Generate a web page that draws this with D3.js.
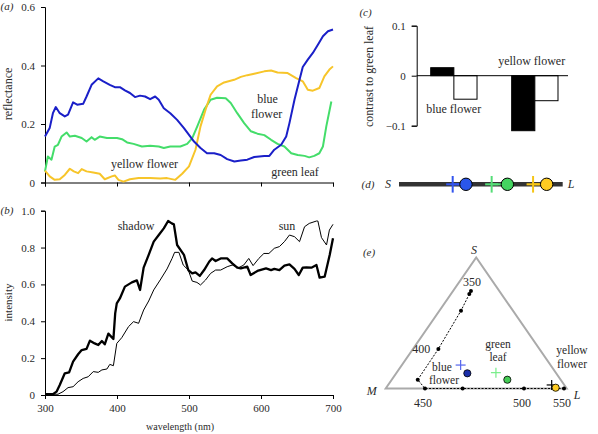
<!DOCTYPE html>
<html><head><meta charset="utf-8">
<script src="https://cdn.jsdelivr.net/npm/d3@7"></script>
<style>
html,body{margin:0;padding:0;background:#fff;}
text{font-family:"Liberation Serif","Times New Roman",serif;fill:#2a2a2a;}
</style></head>
<body>
<svg id="c" width="598" height="434"></svg>
<script>
// ---------- DATA ----------
const wlTicks = [300,400,500,600,700];
const reflTicks = [0,0.2,0.4,0.6];
const intensityTicks = [0,0.2,0.4,0.6,0.8,1.0];
const contrastTicks = [-0.1,0,0.1];

// panel (a) reflectance [wavelength nm, reflectance]
const blueFlower = [[300,0.157],[306.5,0.186],[311,0.237],[315,0.258],[320.5,0.237],[327.5,0.226],[332,0.232],[339,0.274],[344.7,0.266],[353,0.269],[357.7,0.294],[364.7,0.334],[374,0.356],[381,0.346],[390,0.334],[397,0.326],[404,0.326],[411,0.315],[418,0.306],[425,0.292],[432,0.297],[439,0.294],[446,0.285],[453,0.294],[458,0.283],[465,0.254],[474,0.237],[483.5,0.214],[493,0.186],[500,0.163],[507,0.140],[516,0.118],[525,0.100],[535,0.100],[544,0.094],[553,0.080],[563,0.072],[572,0.075],[581,0.078],[590.6,0.087],[604.6,0.091],[611.6,0.091],[618.5,0.112],[628,0.129],[635,0.157],[639.5,0.203],[646.5,0.283],[653.5,0.351],[658,0.395],[665,0.420],[672,0.443],[679,0.471],[686,0.500],[693,0.517],[700,0.523]];
const greenLeaf = [[300,0.038],[304,0.089],[309,0.078],[313.5,0.123],[318,0.129],[323,0.157],[330,0.171],[334.5,0.157],[341.5,0.160],[351,0.152],[357.7,0.140],[364.7,0.155],[369,0.146],[376,0.157],[386,0.152],[400,0.152],[407,0.148],[414,0.137],[423,0.132],[434.6,0.123],[446,0.126],[458,0.123],[465,0.118],[474,0.123],[488,0.123],[497.5,0.132],[504.5,0.152],[511.5,0.192],[521,0.249],[530,0.283],[539,0.290],[551,0.288],[558,0.272],[567,0.237],[576.6,0.203],[586,0.175],[595,0.167],[604.6,0.162],[614,0.146],[623,0.132],[632.5,0.123],[642,0.100],[651,0.094],[660.5,0.091],[667,0.086],[674,0.091],[681,0.100],[686,0.123],[690.7,0.192],[697.7,0.277]];
const yellowFlower = [[300,0.041],[306.5,0.021],[313.5,0.009],[320.5,0.011],[327.5,0.026],[334.5,0.047],[340,0.038],[346,0.032],[351,0.046],[357.7,0.038],[367,0.034],[376,0.030],[383,0.011],[392.7,0.021],[397,0.024],[402,0.009],[409,0.003],[418,0.011],[430,0.015],[446,0.015],[460,0.014],[469.5,0.015],[481,0.009],[490.5,0.030],[500,0.055],[509,0.112],[516,0.192],[523,0.249],[530,0.300],[539,0.329],[548.7,0.342],[562.7,0.351],[572,0.361],[581,0.367],[590.6,0.372],[604.6,0.380],[614,0.383],[623,0.376],[637,0.374],[648.8,0.357],[658,0.346],[665,0.317],[672,0.314],[681,0.323],[688,0.363],[695,0.386],[700,0.397]];

// panel (b) irradiance [wavelength nm, intensity]
const shadow = [[300,0.004],[311,0.004],[316,0.018],[320.5,0.054],[327.5,0.118],[333.5,0.123],[339,0.181],[346,0.221],[351,0.244],[357.7,0.250],[362.4,0.295],[369,0.280],[374,0.271],[379,0.293],[383,0.275],[388,0.333],[395,0.304],[397.5,0.443],[399.7,0.497],[404,0.524],[411,0.588],[420.6,0.611],[427.6,0.622],[432,0.570],[437,0.691],[444,0.760],[451,0.832],[458,0.868],[465,0.904],[471,0.944],[476,0.931],[479,0.926],[483.5,0.814],[493,0.760],[499,0.678],[504.5,0.660],[509,0.665],[515,0.646],[521,0.678],[528,0.723],[532,0.741],[537,0.727],[544,0.741],[553,0.741],[560,0.714],[567,0.691],[572,0.687],[581,0.696],[585.6,0.651],[595,0.673],[607,0.687],[614,0.678],[618.5,0.684],[625.5,0.678],[632.5,0.702],[639.5,0.709],[646.5,0.684],[652.5,0.651],[658,0.691],[663,0.693],[670,0.691],[677,0.705],[681.4,0.637],[688.4,0.642],[695.4,0.760],[700,0.850]];
const sun = [[300,0.004],[318,0.004],[325,0.018],[332,0.040],[339,0.045],[346,0.072],[353,0.090],[360,0.099],[367,0.127],[374,0.123],[379,0.136],[386,0.141],[390,0.166],[395,0.159],[399.7,0.280],[406.6,0.311],[416,0.371],[423,0.398],[430,0.389],[437,0.461],[444,0.510],[451,0.570],[460,0.624],[469.5,0.684],[476.5,0.741],[480,0.774],[486,0.774],[492,0.705],[499,0.678],[504.5,0.618],[511,0.611],[516,0.597],[523,0.624],[530,0.660],[537,0.678],[544,0.678],[553,0.696],[560,0.705],[569,0.691],[576,0.705],[583,0.741],[589,0.702],[597,0.741],[604,0.768],[611,0.768],[618.5,0.796],[625.5,0.805],[632.5,0.832],[639.5,0.868],[646.5,0.859],[653.5,0.832],[660.5,0.913],[667,0.931],[677,0.944],[679,0.944],[684,0.854],[691,0.814],[695,0.895],[700,0.926]];

// panel (c) contrast to green leaf
const contrastGroups = ["blue flower","yellow flower"];
const contrastBlack = [0.016,-0.110];
const contrastWhite = [-0.047,-0.050];

// panel (d) S-L axis positions (0 = S, 1 = L)
const dColors = ["blue","green","yellow"];
const dCrossPos = [0.328,0.566,0.819];
const dCirclePos = [0.409,0.662,0.902];

// panel (e) colour triangle (x: M->L, y: base->S)
const locusWl = [350,355,370,400,430,450,470,500,540,550];
const locusX = [0.471,0.462,0.416,0.291,0.177,0.217,0.425,0.764,0.945,0.985];
const locusY = [0.744,0.721,0.594,0.302,0.067,0.0,0.0,0.0,0.0,0.0];
const locusLabels = [350,400,450,500,550];
const eCrossX = [0.414,0.609,0.917];
const eCrossY = [0.179,0.121,0.027];
const eCircleX = [0.451,0.672,0.939];
const eCircleY = [0.116,0.067,0.006];

// ---------- DRAW ----------
const svg = d3.select("#c");
const FS = 11, LS = 12;
const fmt1 = d => d === 0 ? "0" : d3.format(".1f")(d);
function styleAxis(g){
  g.select(".domain").attr("stroke","#000").attr("stroke-width",1);
  g.selectAll(".tick line").attr("stroke","#000");
  g.selectAll(".tick text").attr("font-size",FS).attr("font-family","Liberation Serif").attr("fill","#2a2a2a");
}
function txt(x,y,s,opt={}){
  const t = svg.append("text").attr("x",x).attr("y",y).attr("font-size",opt.size||LS)
    .attr("text-anchor",opt.anchor||"middle").text(s);
  if(opt.italic) t.attr("font-style","italic");
  if(opt.rotate) t.attr("transform",`rotate(-90,${x},${y})`);
  return t;
}

// ---- panel (a)
const xA = d3.scaleLinear().domain([300,700]).range([45,333]);
const yA = d3.scaleLinear().domain([0,0.6]).range([182.5,7]);
svg.append("g").attr("transform","translate(45,0)")
  .call(d3.axisLeft(yA).tickValues(reflTicks).tickFormat(fmt1).tickSize(4).tickPadding(6)).call(styleAxis);
svg.append("g").attr("transform","translate(0,182.5)")
  .call(d3.axisBottom(xA).tickValues(wlTicks).tickFormat("").tickSize(4)).call(styleAxis);
const lineA = d3.line().x(d=>xA(d[0])).y(d=>yA(d[1]));
[[greenLeaf,"#44dd6a"],[yellowFlower,"#f7c52a"],[blueFlower,"#1a1fc8"]].forEach(([d,c])=>{
  svg.append("path").datum(d).attr("d",lineA).attr("fill","none").attr("stroke",c)
    .attr("stroke-width",2).attr("stroke-linejoin","round");
});
txt(7,10,"(a)",{size:11,italic:true});
txt(12,94,"reflectance",{rotate:true});
txt(144.5,168.3,"yellow flower");
txt(267.5,102.7,"blue");
txt(266.7,118.3,"flower");
txt(295,175.7,"green leaf");

// ---- panel (b)
const xB = d3.scaleLinear().domain([300,700]).range([45,333]);
const yB = d3.scaleLinear().domain([0,1]).range([395,210.7]);
svg.append("g").attr("transform","translate(45,0)")
  .call(d3.axisLeft(yB).tickValues(intensityTicks).tickFormat(fmt1).tickSize(4).tickPadding(6)).call(styleAxis);
svg.append("g").attr("transform","translate(0,395)")
  .call(d3.axisBottom(xB).tickValues(wlTicks).tickFormat(d3.format("d")).tickSize(4).tickPadding(5)).call(styleAxis);
const lineB = d3.line().x(d=>xB(d[0])).y(d=>yB(d[1]));
svg.append("path").datum(sun).attr("d",lineB).attr("fill","none").attr("stroke","#000").attr("stroke-width",1).attr("stroke-linejoin","round");
svg.append("path").datum(shadow).attr("d",lineB).attr("fill","none").attr("stroke","#000").attr("stroke-width",2.3).attr("stroke-linejoin","round");
txt(7,213.5,"(b)",{size:11,italic:true});
txt(12,302.5,"intensity",{rotate:true,size:11});
txt(136,230,"shadow");
txt(287,230,"sun");
txt(180,429.5,"wavelength (nm)",{size:10});

// ---- panel (c)
const yC = d3.scaleLinear().domain([-0.1,0.1]).range([125.7,25.7]);
const xC = d3.scaleBand().domain(contrastGroups).range([416.7,572]).paddingInner(0.428).paddingOuter(0.173);
const xSub = d3.scaleBand().domain([0,1]).range([0,xC.bandwidth()]);
svg.append("g").attr("transform","translate(416.7,0)")
  .call(d3.axisLeft(yC).tickValues(contrastTicks).tickFormat(fmt1).tickSize(5).tickPadding(6)).call(styleAxis);
contrastGroups.forEach((g,i)=>{
  [[contrastBlack[i],"#000"],[contrastWhite[i],"#fff"]].forEach(([v,fill],j)=>{
    svg.append("rect").attr("x",xC(g)+xSub(j)).attr("width",xSub.bandwidth())
      .attr("y",Math.min(yC(v),yC(0))).attr("height",Math.abs(yC(v)-yC(0)))
      .attr("fill",fill).attr("stroke","#000").attr("stroke-width",1);
  });
});
svg.append("line").attr("x1",416.7).attr("x2",568).attr("y1",yC(0)).attr("y2",yC(0)).attr("stroke","#000");
txt(365.5,15.7,"(c)",{size:11,italic:true});
txt(373,76.5,"contrast to green leaf",{rotate:true});
txt(453.7,112.7,"blue flower");
txt(531.7,65,"yellow flower");

// ---- panel (d)
const xD = d3.scaleLinear().domain([0,1]).range([399,562.7]);
const yD = 184.3;
const dCross = {blue:"#3355ee",green:"#55dd77",yellow:"#f5c518"};
const dFill = {blue:"#2a56ea",green:"#44d460",yellow:"#ffcc22"};
svg.append("line").attr("x1",xD(0)).attr("x2",xD(1)).attr("y1",yD).attr("y2",yD).attr("stroke","#333").attr("stroke-width",4.5);
dColors.forEach((c,i)=>{
  const cx = xD(dCrossPos[i]);
  svg.append("line").attr("x1",cx-6.5).attr("x2",cx+6.5).attr("y1",yD).attr("y2",yD).attr("stroke",dCross[c]).attr("stroke-width",2);
  svg.append("line").attr("x1",cx).attr("x2",cx).attr("y1",yD-8.3).attr("y2",yD+8.3).attr("stroke",dCross[c]).attr("stroke-width",2);
  svg.append("line").attr("x1",cx).attr("x2",xD(dCirclePos[i])).attr("y1",yD).attr("y2",yD).attr("stroke",dCross[c]).attr("stroke-width",2);
  svg.append("circle").attr("cx",xD(dCirclePos[i])).attr("cy",yD).attr("r",6.2).attr("fill",dFill[c]).attr("stroke","#000").attr("stroke-width",1);
});
txt(368,187.5,"(d)",{size:11,italic:true});
txt(388,188,"S",{italic:true});
txt(571,188,"L",{italic:true});

// ---- panel (e)
const xE = d3.scaleLinear().domain([0,1]).range([385.7,566.7]);
const yE = d3.scaleLinear().domain([0,1]).range([388.5,257.5]);
const tri = [[0,0],[1,0],[0.5,1]];
svg.append("path").attr("d",d3.line().x(d=>xE(d[0])).y(d=>yE(d[1]))(tri)+"Z")
  .attr("fill","none").attr("stroke","#aaa").attr("stroke-width",2).attr("stroke-linejoin","miter");
const locus = locusWl.map((w,i)=>({w,x:locusX[i],y:locusY[i]}));
svg.append("path").datum(locus).attr("d",d3.line().x(d=>xE(d.x)).y(d=>yE(d.y)))
  .attr("fill","none").attr("stroke","#000").attr("stroke-width",1).attr("stroke-dasharray","2,1.5");
svg.selectAll(".ld").data(locus).enter().append("circle").attr("cx",d=>xE(d.x)).attr("cy",d=>yE(d.y)).attr("r",2).attr("fill","#000");
locus.filter(d=>locusLabels.includes(d.w)).forEach(d=>{
  const x = xE(d.x), y = yE(d.y);
  if(d.y===0) txt(x-2,y+18,d.w);
  else if(d.y>0.6) txt(x+1,y-5.5,d.w);
  else txt(x-8,y+4.5,d.w,{anchor:"end"});
});
const eCrossC = ["#5566ee","#77ee88","#000"];
const eCircC = ["#1a2ea8","#44cc55","#ffcc22"];
eCrossX.forEach((x,i)=>{
  const cx=xE(x), cy=yE(eCrossY[i]);
  svg.append("line").attr("x1",cx-5).attr("x2",cx+5).attr("y1",cy).attr("y2",cy).attr("stroke",eCrossC[i]).attr("stroke-width",1.2);
  svg.append("line").attr("x1",cx).attr("x2",cx).attr("y1",cy-5).attr("y2",cy+5).attr("stroke",eCrossC[i]).attr("stroke-width",1.2);
});
eCircleX.forEach((x,i)=>{
  svg.append("circle").attr("cx",xE(x)).attr("cy",yE(eCircleY[i])).attr("r",3.6).attr("fill",eCircC[i]).attr("stroke","#000").attr("stroke-width",0.8);
});
txt(369,255.7,"(e)",{size:11,italic:true});
txt(474,254,"S",{italic:true});
txt(371.7,394.5,"M",{italic:true});
txt(577,398.5,"L",{italic:true});
txt(442,370.7,"blue",{size:11.5});
txt(444,384,"flower",{size:11.5});
txt(498,347.5,"green",{size:11.5});
txt(498,361,"leaf",{size:11.5});
txt(572,354,"yellow",{size:11.5});
txt(572,367.7,"flower",{size:11.5});
</script>
</body></html>
